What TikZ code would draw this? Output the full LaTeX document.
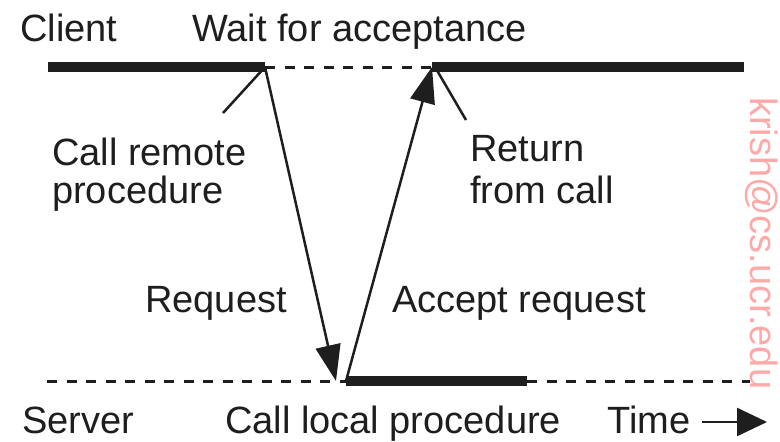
\documentclass[tikz,border=0pt]{standalone}
\usepackage{fontspec}
\setmainfont{Liberation Sans}
\usetikzlibrary{arrows.meta}
\definecolor{ink}{RGB}{30,30,30}
\definecolor{mark}{RGB}{255,168,168}
\begin{document}
\begin{tikzpicture}[x=1pt,y=-1pt,
  lbl/.style={anchor=base west, inner sep=0pt, font=\fontsize{38}{44}\selectfont, text=ink},
  active/.style={draw=ink, line width=10pt, line cap=butt},
  idle/.style={draw=ink, line width=3pt, dash pattern=on 10pt off 9.5pt},
  msg/.style={draw=ink, line width=2.5pt, -{Triangle[length=36pt,width=25pt]}},
  pointer/.style={draw=ink, line width=2.5pt}
]
\useasboundingbox (0,0) rectangle (780,442);

% time line points
\coordinate (cA) at (48,67);
\coordinate (cB) at (265,67);
\coordinate (cC) at (432,67);
\coordinate (cD) at (744,67);
\coordinate (sA) at (47,381);
\coordinate (sB) at (346,381);
\coordinate (sC) at (527,381);
\coordinate (sD) at (750,381);
\coordinate (rq) at (336,381);
\coordinate (p1) at (223,113);
\coordinate (p2) at (466,120);

% client and server time lines
\draw[active] (cA) -- (cB);
\draw[idle] (cB) -- (cC);
\draw[active] (cC) -- (cD);
\draw[idle] (sA) -- (sB);
\draw[active] (sB) -- (sC);
\draw[idle] (sC) -- (sD);

% messages
\draw[msg] (cB) -- (rq);
\draw[msg] (sB) -- (cC);

% label pointers
\draw[pointer] (cB) -- (p1);
\draw[pointer] ([xshift=3pt]cC) -- (p2);

% labels
\node[lbl] (client) at (20,41) {Client};
\node[lbl] (wait) at (192,41) {Wait for acceptance};
\node[lbl] (call1) at (52,165) {Call remote};
\node[lbl] (call2) at (52,203) {procedure};
\node[lbl] (ret1) at (470,161) {Return};
\node[lbl] (ret2) at (470,203) {from call};
\node[lbl] (req) at (145,312) {Request};
\node[lbl] (acc) at (392,312) {Accept request};
\node[lbl] (server) at (22,433) {Server};
\node[lbl] (local) at (225,433) {Call local procedure};
\node[lbl] (time) at (607,433) {Time};

% time arrow
\coordinate (t0) at (702,422);
\coordinate (t1) at (767,422);
\draw[draw=ink, line width=2.5pt, -{Triangle[length=30pt,width=28pt]}] (t0) -- (t1);

% author mark
\node[lbl, text=mark, rotate=-90] (author) at (750,97) {krish@cs.ucr.edu};
\end{tikzpicture}
\end{document}
